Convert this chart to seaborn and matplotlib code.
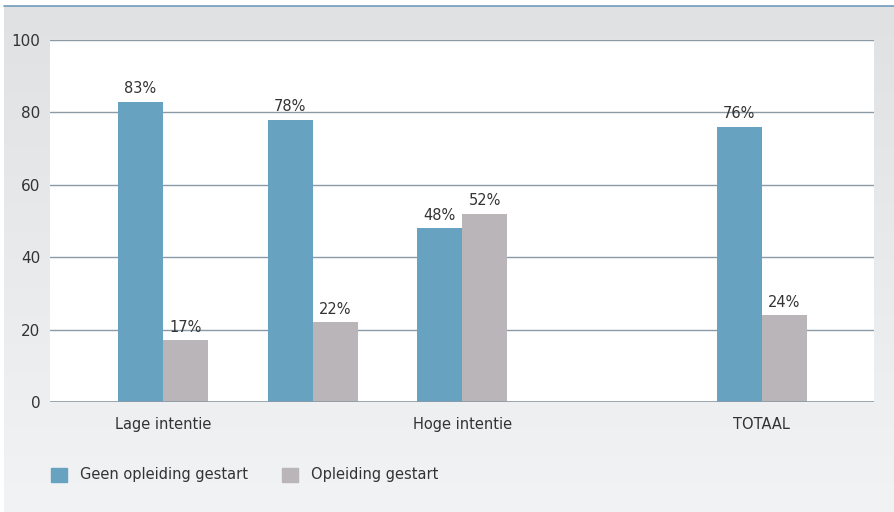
import numpy as np
import pandas as pd
import matplotlib.pyplot as plt
import matplotlib.patches as mpatches
from matplotlib.colors import LinearSegmentedColormap
import seaborn as sns

# data
groups = ['Lage intentie', 'groep 2', 'Hoge intentie', 'leeg', 'TOTAAL']
tick_labels = ['Lage intentie', '', 'Hoge intentie', '', 'TOTAAL']
series = ['Geen opleiding gestart', 'Opleiding gestart']
bar_groups = ['Lage intentie', 'groep 2', 'Hoge intentie', 'TOTAAL']
geen = [83, 78, 48, 76]
wel = [17, 22, 52, 24]

colors = ['#67a2c1', '#b9b5b8']
grid_col = '#8c9aa5'
txt_col = '#333333'

df = pd.DataFrame({
    'groep': bar_groups * 2,
    'serie': [series[0]] * len(geen) + [series[1]] * len(wel),
    'waarde': geen + wel,
})

sns.set_style('white')
plt.rcParams['font.family'] = ['DejaVu Sans']

fig = plt.figure(figsize=(8.94, 5.12), dpi=100)
fig.patch.set_facecolor('white')

# achtergrond met zachte verloop
bg = fig.add_axes([4 / 894, 0, 890 / 894, 506 / 512])
grad = np.linspace(0, 1, 256).reshape(-1, 1)
bg.imshow(grad, aspect='auto', extent=[0, 1, 0, 1],
          cmap=LinearSegmentedColormap.from_list('bg', ['#e0e1e3', '#f2f3f4']))
bg.set_axis_off()
fig.add_artist(plt.Line2D([4 / 894, 1], [506 / 512, 506 / 512], color='#6f9bbd', lw=1.2))

ax = fig.add_axes([50 / 894, 1 - 402 / 512, 824 / 894, 362 / 512])
ax.set_facecolor('white')
sns.barplot(data=df, x='groep', y='waarde', hue='serie', order=groups,
            hue_order=series, palette=colors, width=0.6, gap=0,
            saturation=1, linewidth=0, ax=ax, legend=False, zorder=3)

for c in ax.containers:
    ax.bar_label(c, fmt='%d%%', padding=4, fontsize=10.5, color=txt_col)

ax.set_ylim(0, 100)
ax.set_xlim(-0.755, 4.75)
ax.set_yticks(range(0, 101, 20))
ax.yaxis.grid(True, color=grid_col, lw=1)
ax.axhline(0, color=grid_col, lw=1.2, zorder=4)
ax.set_axisbelow(True)
ax.set_xticks(range(len(groups)))
ax.set_xticklabels(tick_labels)
ax.set_xlabel('')
ax.set_ylabel('')
ax.tick_params(axis='y', length=0, pad=7, labelsize=11, labelcolor=txt_col)
ax.tick_params(axis='x', length=0, pad=11, labelsize=10.5, labelcolor=txt_col)
for s in ax.spines.values():
    s.set_visible(False)

handles = [mpatches.Patch(color=colors[0], label=series[0]),
           mpatches.Patch(color=colors[1], label=series[1])]
fig.legend(handles=handles, loc='center left', bbox_to_anchor=(38 / 894, 1 - 475 / 512),
           ncol=2, frameon=False, fontsize=10.5, handlelength=1.1, handleheight=1.1,
           handletextpad=0.9, columnspacing=2.3, labelcolor=txt_col)

fig.savefig('out.png', dpi=100)
